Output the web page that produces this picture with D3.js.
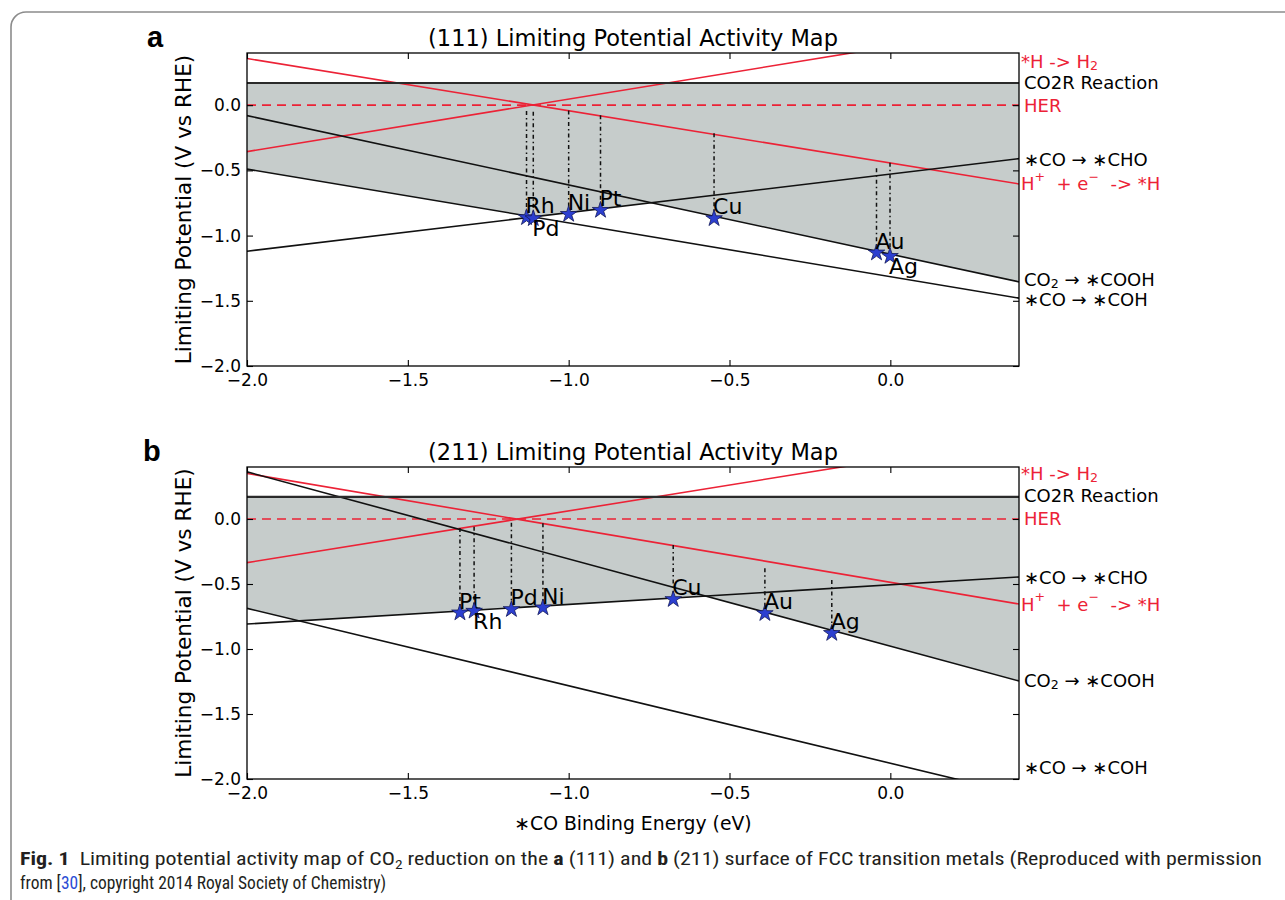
<!DOCTYPE html>
<html><head><meta charset="utf-8">
<script src="https://cdn.jsdelivr.net/npm/d3@7"></script>
<style>body{margin:0;background:#fff} svg{display:block}</style>
</head><body><svg id="c" width="1285" height="900"></svg>
<script>
// ---------------- data ----------------
const xTickVals = [-2.0, -1.5, -1.0, -0.5, 0.0];
const yTickVals = [-2.0, -1.5, -1.0, -0.5, 0.0];
const xDomain = [-2.0, 0.4];
const yDomain = [-2.0, 0.4];
const lineX = [-2.0, 0.4];            // each line below: values at x = -2.0 and x = 0.4

const panelLetters = ["a", "b"];
const panelTitles = ["(111) Limiting Potential Activity Map", "(211) Limiting Potential Activity Map"];
const yLabel = "Limiting Potential (V vs RHE)";
const xLabel = "∗CO Binding Energy (eV)";

const co2rLevel = [0.17, 0.17];
const herLevel = [0.0, 0.0];

// (111) surface
const a_COOH = [-0.08, -1.355];
const a_CHO  = [-1.12, -0.41];
const a_COH  = [-0.49, -1.48];
const a_Hads = [0.358, -0.604];   // H+ + e- -> *H
const a_H2   = [-0.356, 0.61];    // *H -> H2
const a_metals = ["Rh", "Pd", "Ni", "Pt", "Cu", "Au", "Ag"];
const a_metalX = [-1.131, -1.110, -1.000, -0.901, -0.548, -0.043, -0.001];
const a_metalY = [-0.861, -0.869, -0.836, -0.805, -0.869, -1.132, -1.158];
const a_herTop = [-0.044, -0.050, -0.040, -0.077, -0.215, -0.483, -0.442];
const a_labelSide = ["above", "below", "above", "above", "above", "above", "below"];
const a_rightLabelY = [0.34, 0.18, 0.0, -0.41, -0.60, -1.33, -1.485];

// (211) surface
const b_COOH = [0.363, -1.246];
const b_CHO  = [-0.808, -0.446];
const b_COH  = [-0.687, -2.117];
const b_Hads = [0.35, -0.654];
const b_H2   = [-0.336, 0.62];
const b_metals = ["Pt", "Rh", "Pd", "Ni", "Cu", "Au", "Ag"];
const b_metalX = [-1.338, -1.294, -1.178, -1.080, -0.675, -0.390, -0.182];
const b_metalY = [-0.721, -0.708, -0.695, -0.682, -0.618, -0.726, -0.879];
const b_herTop = [-0.069, -0.059, -0.028, -0.033, -0.200, -0.379, -0.469];
const b_labelSide = ["above", "below", "above", "above", "above", "above", "above"];
const b_rightLabelY = [0.355, 0.185, 0.005, -0.446, -0.654, -1.238, -1.91];

const rightLabelText = ["*H -> H_{2}", "CO2R Reaction", "HER", "∗CO → ∗CHO",
                        "H^{+}  + e^{−}  -> *H", "CO_{2} → ∗COOH", "∗CO → ∗COH"];
const rightLabelRed = [true, false, true, false, true, false, false];

// ---------------- drawing ----------------
const RED = "#ec2236", GREY = "#c6cccb", STAR = "#2c3fd0";
const FONT = "DejaVu Sans, Verdana, sans-serif";
const svg = d3.select("#c");
svg.append("rect").attr("width", 1285).attr("height", 900).attr("fill", "#fff");
svg.append("path").attr("d", "M11,900 V27 A15,15 0 0 1 26,12 H1285")
   .attr("fill", "none").attr("stroke", "#8c8c8c").attr("stroke-width", 1.6);

function rich(textSel, str, fs) {
  const parts = str.split(/(_\{[^}]*\}|\^\{[^}]*\})/).filter(s => s.length);
  let shift = 0;
  parts.forEach(p => {
    let target = 0, txt = p, size = fs;
    if (p.startsWith("_{")) { target = fs * 0.25; txt = p.slice(2, -1); size = fs * 0.7; }
    else if (p.startsWith("^{")) { target = -fs * 0.42; txt = p.slice(2, -1); size = fs * 0.7; }
    textSel.append("tspan").attr("dy", target - shift).attr("font-size", size).text(txt);
    shift = target;
  });
}

function panel(idx, top, bottom, d, showXLabel) {
  const left = 247, right = 1019;
  const x = d3.scaleLinear().domain(xDomain).range([left, right]);
  const y = d3.scaleLinear().domain(yDomain).range([bottom, top]);
  const g = svg.append("g");
  const clipId = "clip" + idx;
  g.append("clipPath").attr("id", clipId).append("rect")
    .attr("x", left).attr("y", top).attr("width", right - left).attr("height", bottom - top);
  const lin = (arr, xv) => arr[0] + (arr[1] - arr[0]) * (xv - lineX[0]) / (lineX[1] - lineX[0]);
  const lower = xv => Math.min(lin(d.COOH, xv), Math.max(lin(d.CHO, xv), lin(d.COH, xv)));
  const xs = d3.range(xDomain[0], xDomain[1] + 1e-9, 0.002);
  const plot = g.append("g").attr("clip-path", `url(#${clipId})`);
  plot.append("path").datum(xs)
    .attr("d", d3.area().x(v => x(v)).y0(y(co2rLevel[idx])).y1(v => y(lower(v))))
    .attr("fill", GREY);
  const ln = d3.line().x(p => x(p[0])).y(p => y(p[1]));
  const pts = arr => lineX.map((xv, i) => [xv, arr[i]]);
  [d.Hads, d.H2].forEach(arr => plot.append("path").datum(pts(arr)).attr("d", ln)
    .attr("fill", "none").attr("stroke", RED).attr("stroke-width", 1.6));
  plot.append("path").datum([[xDomain[0], herLevel[idx]], [xDomain[1], herLevel[idx]]]).attr("d", ln)
    .attr("fill", "none").attr("stroke", RED).attr("stroke-width", 1.6).attr("stroke-dasharray", "9,6");
  [d.COOH, d.CHO, d.COH].forEach(arr => plot.append("path").datum(pts(arr)).attr("d", ln)
    .attr("fill", "none").attr("stroke", "#111").attr("stroke-width", 1.6));
  plot.append("path").datum([[xDomain[0], co2rLevel[idx]], [xDomain[1], co2rLevel[idx]]]).attr("d", ln)
    .attr("fill", "none").attr("stroke", "#2a2a2a").attr("stroke-width", 2.2);
  d.metals.forEach((m, i) => {
    plot.append("line").attr("x1", x(d.mx[i])).attr("x2", x(d.mx[i]))
      .attr("y1", y(d.herTop[i])).attr("y2", y(d.my[i]))
      .attr("stroke", "#111").attr("stroke-width", 1.5).attr("stroke-dasharray", "4,3,1.5,3");
  });
  g.append("rect").attr("x", left).attr("y", top).attr("width", right - left).attr("height", bottom - top)
    .attr("fill", "none").attr("stroke", "#000").attr("stroke-width", 1.3);
  const fmt = d3.format(".1f");
  const axB = g.append("g").attr("transform", `translate(0,${bottom})`)
    .call(d3.axisBottom(x).tickValues(xTickVals).tickFormat(fmt).tickSizeInner(-6).tickSizeOuter(0).tickPadding(8));
  const axT = g.append("g").attr("transform", `translate(0,${top})`)
    .call(d3.axisTop(x).tickValues(xTickVals).tickFormat("").tickSizeInner(-6).tickSizeOuter(0));
  const axL = g.append("g").attr("transform", `translate(${left},0)`)
    .call(d3.axisLeft(y).tickValues(yTickVals).tickFormat(fmt).tickSizeInner(-6).tickSizeOuter(0).tickPadding(6));
  const axR = g.append("g").attr("transform", `translate(${right},0)`)
    .call(d3.axisRight(y).tickValues(yTickVals).tickFormat("").tickSizeInner(-6).tickSizeOuter(0));
  [axB, axT, axL, axR].forEach(a => {
    a.select(".domain").remove();
    a.selectAll("line").attr("stroke", "#000").attr("stroke-width", 1.1);
    a.selectAll("text").attr("font-family", FONT).attr("font-size", 17).attr("fill", "#000");
  });
  const star = d3.symbol().type(d3.symbolStar).size(85);
  d.metals.forEach((m, i) => {
    g.append("path").attr("d", star).attr("transform", `translate(${x(d.mx[i])},${y(d.my[i])})`)
      .attr("fill", STAR).attr("stroke", "#141a5a").attr("stroke-width", 0.8);
    g.append("text").attr("x", x(d.mx[i]) - 1)
      .attr("y", y(d.my[i]) + (d.side[i] === "above" ? -4 : 18))
      .attr("font-family", FONT).attr("font-size", 22).attr("fill", "#000").text(m);
  });
  rightLabelText.forEach((s, i) => {
    const t = g.append("text").attr("x", right + (i === 0 || i === 4 ? 2 : 5)).attr("y", y(d.rly[i]))
      .attr("dominant-baseline", "central").attr("font-family", FONT).attr("font-size", 18)
      .attr("fill", rightLabelRed[i] ? RED : "#000").style("white-space", "pre");
    rich(t, s, 18);
  });
  g.append("text").attr("x", (left + right) / 2).attr("y", top - 7).attr("text-anchor", "middle")
    .attr("font-family", FONT).attr("font-size", 22.5).attr("fill", "#000").text(panelTitles[idx]);
  g.append("text").attr("x", idx === 0 ? 147 : 143).attr("y", top - 6)
    .attr("font-family", "Liberation Sans, Arial, sans-serif").attr("font-weight", "bold")
    .attr("font-size", 29).attr("fill", "#000").text(panelLetters[idx]);
  g.append("text").attr("transform", `translate(191,${(top + bottom) / 2}) rotate(-90)`)
    .attr("text-anchor", "middle").attr("font-family", FONT).attr("font-size", 21.6).attr("fill", "#000").text(yLabel);
  if (showXLabel) {
    g.append("text").attr("x", (left + right) / 2).attr("y", bottom + 51).attr("text-anchor", "middle")
      .attr("font-family", FONT).attr("font-size", 18.8).attr("fill", "#000").text(xLabel);
  }
}

panel(0, 53, 366, {COOH: a_COOH, CHO: a_CHO, COH: a_COH, Hads: a_Hads, H2: a_H2,
  metals: a_metals, mx: a_metalX, my: a_metalY, herTop: a_herTop, side: a_labelSide, rly: a_rightLabelY}, false);
panel(1, 467, 779, {COOH: b_COOH, CHO: b_CHO, COH: b_COH, Hads: b_Hads, H2: b_H2,
  metals: b_metals, mx: b_metalX, my: b_metalY, herTop: b_herTop, side: b_labelSide, rly: b_rightLabelY}, true);

// caption
const CAP = "Liberation Sans Narrow, Roboto Condensed, Arial Narrow, Liberation Sans, sans-serif";
const c1 = svg.append("text").attr("x", 20).attr("y", 865).attr("font-family", CAP).attr("font-size", 18.5)
  .attr("fill", "#231f20").attr("textLength", 1242).attr("lengthAdjust", "spacingAndGlyphs").style("white-space", "pre");
c1.append("tspan").attr("font-weight", "bold").text("Fig. 1");
c1.append("tspan").text("  Limiting potential activity map of CO");
c1.append("tspan").attr("dy", 4).attr("font-size", 13).text("2");
c1.append("tspan").attr("dy", -4).text(" reduction on the ");
c1.append("tspan").attr("font-weight", "bold").text("a");
c1.append("tspan").text(" (111) and ");
c1.append("tspan").attr("font-weight", "bold").text("b");
c1.append("tspan").text(" (211) surface of FCC transition metals (Reproduced with permission");
const c2 = svg.append("text").attr("x", 20).attr("y", 889).attr("font-family", CAP).attr("font-size", 18.5)
  .attr("fill", "#231f20").attr("textLength", 366).attr("lengthAdjust", "spacingAndGlyphs");
c2.append("tspan").text("from [");
c2.append("tspan").attr("fill", "#2b4cd4").text("30");
c2.append("tspan").text("], copyright 2014 Royal Society of Chemistry)");
</script></body></html>
